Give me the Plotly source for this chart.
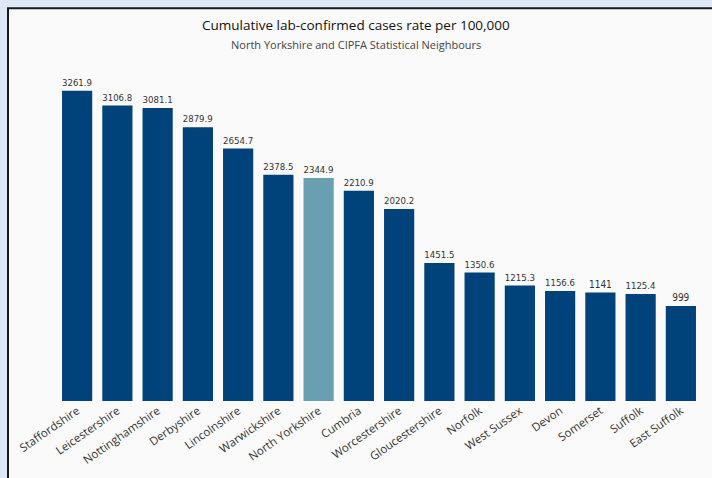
import plotly.graph_objects as go

areas = ["Staffordshire", "Leicestershire", "Nottinghamshire", "Derbyshire", "Lincolnshire",
         "Warwickshire", "North Yorkshire", "Cumbria", "Worcestershire", "Gloucestershire",
         "Norfolk", "West Sussex", "Devon", "Somerset", "Suffolk", "East Suffolk"]
rates = [3261.9, 3106.8, 3081.1, 2879.9, 2654.7, 2378.5, 2344.9, 2210.9, 2020.2, 1451.5,
         1350.6, 1215.3, 1156.6, 1141, 1125.4, 999]
labels = ["3261.9", "3106.8", "3081.1", "2879.9", "2654.7", "2378.5", "2344.9", "2210.9",
          "2020.2", "1451.5", "1350.6", "1215.3", "1156.6", "1141", "1125.4", "999"]
highlight = "North Yorkshire"

colors = ["#6a9fb1" if a == highlight else "#00427a" for a in areas]

L, R, T, B = 57, 11, 60, 75
W, H = 712 - L - R, 478 - T - B

fig = go.Figure(go.Bar(
    x=areas, y=rates, marker=dict(color=colors, line=dict(width=0)),
    text=labels, textposition="outside", cliponaxis=False,
    textfont=dict(family="DejaVu Sans Condensed", size=10, color="#333333"),
    width=0.75,
))

def px_x(p):
    return (p - L) / W

def px_y(p):
    return (478 - B - p) / H

fig.add_shape(type="rect", xref="paper", yref="paper",
              x0=px_x(8), x1=px_x(730), y0=px_y(500), y1=px_y(8),
              fillcolor="#fafafa", line=dict(color="#1a1a1a", width=2), layer="below")

fig.add_annotation(text="Cumulative lab-confirmed cases rate per 100,000",
                   xref="paper", yref="paper", x=px_x(356), y=px_y(25),
                   showarrow=False, xanchor="center", yanchor="middle",
                   font=dict(family="Open Sans", size=13.5, color="#111111"))
fig.add_annotation(text="North Yorkshire and CIPFA Statistical Neighbours",
                   xref="paper", yref="paper", x=px_x(356), y=px_y(44),
                   showarrow=False, xanchor="center", yanchor="middle",
                   font=dict(family="Open Sans", size=11, color="#444444"))

fig.update_layout(
    width=712, height=478,
    margin=dict(l=L, r=R, t=T, b=B, pad=0),
    paper_bgcolor="#dde8f4", plot_bgcolor="rgba(0,0,0,0)",
    showlegend=False, bargap=0.25,
    xaxis=dict(tickangle=-35, tickfont=dict(family="Open Sans", size=11.5, color="#333333"),
               showgrid=False, showline=False, zeroline=False, ticks=""),
    yaxis=dict(range=[0, H / 0.09565], visible=False, showgrid=False, zeroline=False),
)

fig.write_html("out.html")
